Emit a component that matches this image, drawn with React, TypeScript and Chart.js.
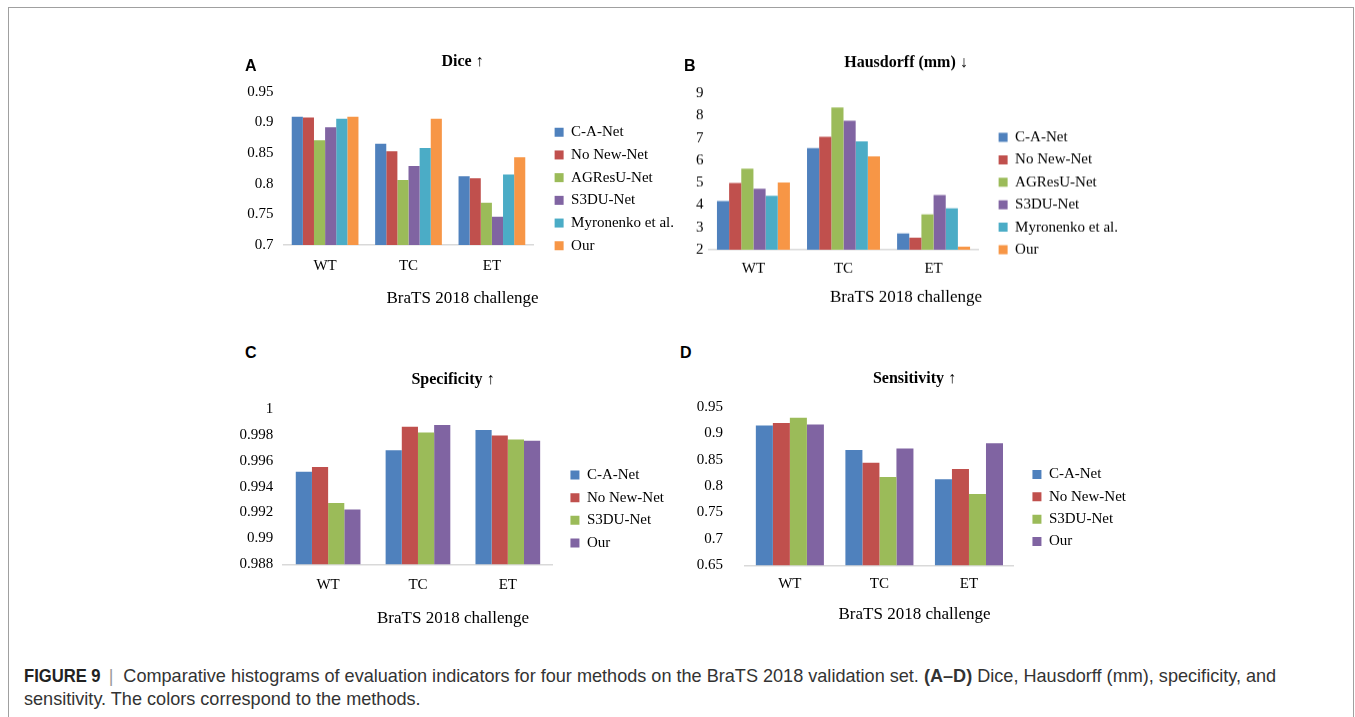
import React, { useEffect, useRef } from "react";
import { Chart, registerables } from "chart.js";

Chart.register(...registerables);

// ---------- data ----------
const categories = ["WT", "TC", "ET"];

const methodsSix = ["C-A-Net", "No New-Net", "AGResU-Net", "S3DU-Net", "Myronenko et al.", "Our"];
const methodsFour = ["C-A-Net", "No New-Net", "S3DU-Net", "Our"];

const colorsSix = ["#4F81BD", "#C0504D", "#9BBB59", "#8064A2", "#4BACC6", "#F79646"];
const colorsFour = ["#4F81BD", "#C0504D", "#9BBB59", "#8064A2"];

// Dice (WT, TC, ET)
const diceCANet = [0.909, 0.865, 0.812];
const diceNoNewNet = [0.908, 0.853, 0.809];
const diceAGResUNet = [0.871, 0.806, 0.769];
const diceS3DUNet = [0.892, 0.829, 0.746];
const diceMyronenko = [0.906, 0.858, 0.815];
const diceOur = [0.909, 0.906, 0.843];
const diceTicks = [0.7, 0.75, 0.8, 0.85, 0.9, 0.95];

// Hausdorff (mm)
const hdCANet = [4.18, 6.55, 2.73];
const hdNoNewNet = [4.99, 7.06, 2.54];
const hdAGResUNet = [5.63, 8.37, 3.58];
const hdS3DUNet = [4.73, 7.78, 4.45];
const hdMyronenko = [4.42, 6.85, 3.85];
const hdOur = [5.01, 6.18, 2.13];
const hdTicks = [2, 3, 4, 5, 6, 7, 8, 9];

// Specificity
const specCANet = [0.99515, 0.99682, 0.99838];
const specNoNewNet = [0.99551, 0.99862, 0.99795];
const specS3DUNet = [0.99274, 0.99818, 0.99764];
const specOur = [0.99223, 0.99877, 0.99754];
const specTicks = [0.988, 0.99, 0.992, 0.994, 0.996, 0.998, 1];

// Sensitivity
const sensCANet = [0.9146, 0.868, 0.813];
const sensNoNewNet = [0.919, 0.844, 0.832];
const sensS3DUNet = [0.929, 0.817, 0.785];
const sensOur = [0.9165, 0.871, 0.881];
const sensTicks = [0.65, 0.7, 0.75, 0.8, 0.85, 0.9, 0.95];

const xAxisTitle = "BraTS 2018 challenge";

// ---------- helpers ----------
const SERIF = "'Liberation Serif', 'Times New Roman', serif";
const SANS = "'Liberation Sans', Arial, Helvetica, sans-serif";

type Layout = {
  left: number; top: number; width: number; height: number;
  yW: number; dummyW: number;
  titlePadTop: number; titlePadBottom: number;
  xH: number; xTickPad: number; yTickPad: number;
  subPadBottom: number;
  legendPad: number; catPct: number;
};

type PanelSpec = {
  letter: string; letterX: number; letterY: number;
  title: string;
  labels: string[]; colors: string[]; series: number[][];
  ticks: number[];
  layout: Layout;
};

const fmt = (v: number) => String(Number(v.toFixed(4)));

function makeConfig(p: PanelSpec): any {
  const L = p.layout;
  return {
    type: "bar",
    data: {
      labels: categories,
      datasets: p.series.map((s, i) => ({
        label: p.labels[i],
        data: s,
        backgroundColor: p.colors[i],
        borderWidth: 0,
        yAxisID: "y",
        categoryPercentage: L.catPct,
        barPercentage: 1.0,
      })),
    },
    options: {
      animation: false,
      responsive: false,
      maintainAspectRatio: false,
      layout: { padding: 0 },
      plugins: {
        tooltip: { enabled: false },
        title: {
          display: true,
          text: p.title,
          color: "#000",
          font: { family: SERIF, size: 16, weight: "bold", lineHeight: 1.2 },
          padding: { top: L.titlePadTop, bottom: L.titlePadBottom },
        },
        subtitle: {
          display: true,
          position: "bottom",
          text: xAxisTitle,
          color: "#000",
          font: { family: SERIF, size: 17, lineHeight: 1.2 },
          padding: { top: 0, bottom: L.subPadBottom },
        },
        legend: {
          display: true,
          position: "right",
          align: "center",
          maxWidth: 400,
          labels: {
            boxWidth: 9,
            boxHeight: 9,
            padding: L.legendPad,
            color: "#000",
            font: { family: SERIF, size: 15 },
          },
        },
      },
      scales: {
        x: {
          type: "category",
          grid: { display: false, drawTicks: false },
          border: { display: true, color: "#D9D9D9", width: 1.5 },
          ticks: { color: "#000", font: { family: SERIF, size: 15 }, padding: L.xTickPad },
          afterFit: (s: any) => { s.height = L.xH; },
        },
        y: {
          type: "linear",
          min: p.ticks[0],
          max: p.ticks[p.ticks.length - 1],
          grid: { display: false, drawTicks: false },
          border: { display: false },
          ticks: {
            color: "#000",
            font: { family: SERIF, size: 15 },
            padding: L.yTickPad,
            callback: (v: any) => fmt(Number(v)),
          },
          afterBuildTicks: (s: any) => { s.ticks = p.ticks.map((v) => ({ value: v })); },
          afterFit: (s: any) => { s.width = L.yW; },
        },
        y2: {
          type: "linear",
          position: "right",
          display: true,
          grid: { display: false, drawTicks: false },
          border: { display: false },
          ticks: { display: false },
          afterFit: (s: any) => { s.width = L.dummyW; },
        },
      },
    },
  };
}

function ChartPanel({ spec }: { spec: PanelSpec }) {
  const ref = useRef<HTMLCanvasElement | null>(null);
  useEffect(() => {
    if (!ref.current) return;
    const chart = new Chart(ref.current, makeConfig(spec));
    return () => chart.destroy();
  }, []);
  const L = spec.layout;
  return (
    <div style={{ position: "absolute", left: L.left, top: L.top, width: L.width, height: L.height }}>
      <canvas ref={ref} width={L.width} height={L.height} style={{ width: L.width, height: L.height, display: "block" }} />
    </div>
  );
}

const panels: PanelSpec[] = [
  {
    letter: "A", letterX: 245, letterY: 57,
    title: "Dice \u2191",
    labels: methodsSix, colors: colorsSix,
    series: [diceCANet, diceNoNewNet, diceAGResUNet, diceS3DUNet, diceMyronenko, diceOur],
    ticks: diceTicks,
    layout: {
      left: 240.6, top: 50, width: 443, height: 278,
      yW: 42.4, dummyW: 13.3,
      titlePadTop: 2.4, titlePadBottom: 20.1,
      xH: 43.5, xTickPad: 12.5, yTickPad: 10,
      subPadBottom: 19.1,
      legendPad: 7.7, catPct: 0.8,
    },
  },
  {
    letter: "B", letterX: 684, letterY: 57,
    title: "Hausdorff (mm) \u2193",
    labels: methodsSix, colors: colorsSix,
    series: [hdCANet, hdNoNewNet, hdAGResUNet, hdS3DUNet, hdMyronenko, hdOur],
    ticks: hdTicks,
    layout: {
      left: 683.6, top: 50, width: 444, height: 286.6,
      yW: 24.4, dummyW: 12.6,
      titlePadTop: 3.4, titlePadBottom: 20.7,
      xH: 37.2, xTickPad: 10.3, yTickPad: 5,
      subPadBottom: 29.4,
      legendPad: 7.4, catPct: 0.81,
    },
  },
  {
    letter: "C", letterX: 245, letterY: 344,
    title: "Specificity \u2191",
    labels: methodsFour, colors: colorsFour,
    series: [specCANet, specNoNewNet, specS3DUNet, specOur],
    ticks: specTicks,
    layout: {
      left: 231.8, top: 365, width: 442, height: 288,
      yW: 51.2, dummyW: 10.1,
      titlePadTop: 5.4, titlePadBottom: 19.4,
      xH: 43.9, xTickPad: 11.8, yTickPad: 10,
      subPadBottom: 24.4,
      legendPad: 7.6, catPct: 0.72,
    },
  },
  {
    letter: "D", letterX: 680, letterY: 344,
    title: "Sensitivity \u2191",
    labels: methodsFour, colors: colorsFour,
    series: [sensCANet, sensNoNewNet, sensS3DUNet, sensOur],
    ticks: sensTicks,
    layout: {
      left: 692.9, top: 365, width: 443, height: 286,
      yW: 52.1, dummyW: 11.4,
      titlePadTop: 4.7, titlePadBottom: 17.8,
      xH: 39.5, xTickPad: 9.8, yTickPad: 22,
      subPadBottom: 25.8,
      legendPad: 7.3, catPct: 0.76,
    },
  },
];

export default function App() {
  return (
    <div style={{ position: "absolute", left: 0, top: 0, width: 1355, height: 717, background: "#fff", overflow: "hidden" }}>
      <div style={{ position: "absolute", left: 8, top: 7, width: 1346, height: 760, border: "1.5px solid #A0A0A0", borderBottom: "none", boxSizing: "border-box" }} />
      {panels.map((p) => (
        <ChartPanel key={p.letter} spec={p} />
      ))}
      {panels.map((p) => (
        <div key={"l" + p.letter} style={{ position: "absolute", left: p.letterX, top: p.letterY, fontFamily: SANS, fontWeight: "bold", fontSize: 16, lineHeight: "18px", color: "#000" }}>
          {p.letter}
        </div>
      ))}
      <div style={{ position: "absolute", left: 24, top: 664.5, whiteSpace: "nowrap", fontFamily: SANS, fontSize: 18.1, lineHeight: "23px", color: "#333" }}>
        <span style={{ fontWeight: "bold", color: "#222", display: "inline-block", transform: "scaleX(0.918)", transformOrigin: "left center", marginRight: -6.8 }}>FIGURE 9</span>
        <span style={{ color: "#9a9a9a", margin: "0 10px 0 8px" }}>|</span>
        Comparative histograms of evaluation indicators for four methods on the BraTS 2018 validation set.{" "}
        <span style={{ fontWeight: "bold" }}>(A–D)</span> Dice, Hausdorff (mm), specificity, and
        <br />
        sensitivity. The colors correspond to the methods.
      </div>
    </div>
  );
}
